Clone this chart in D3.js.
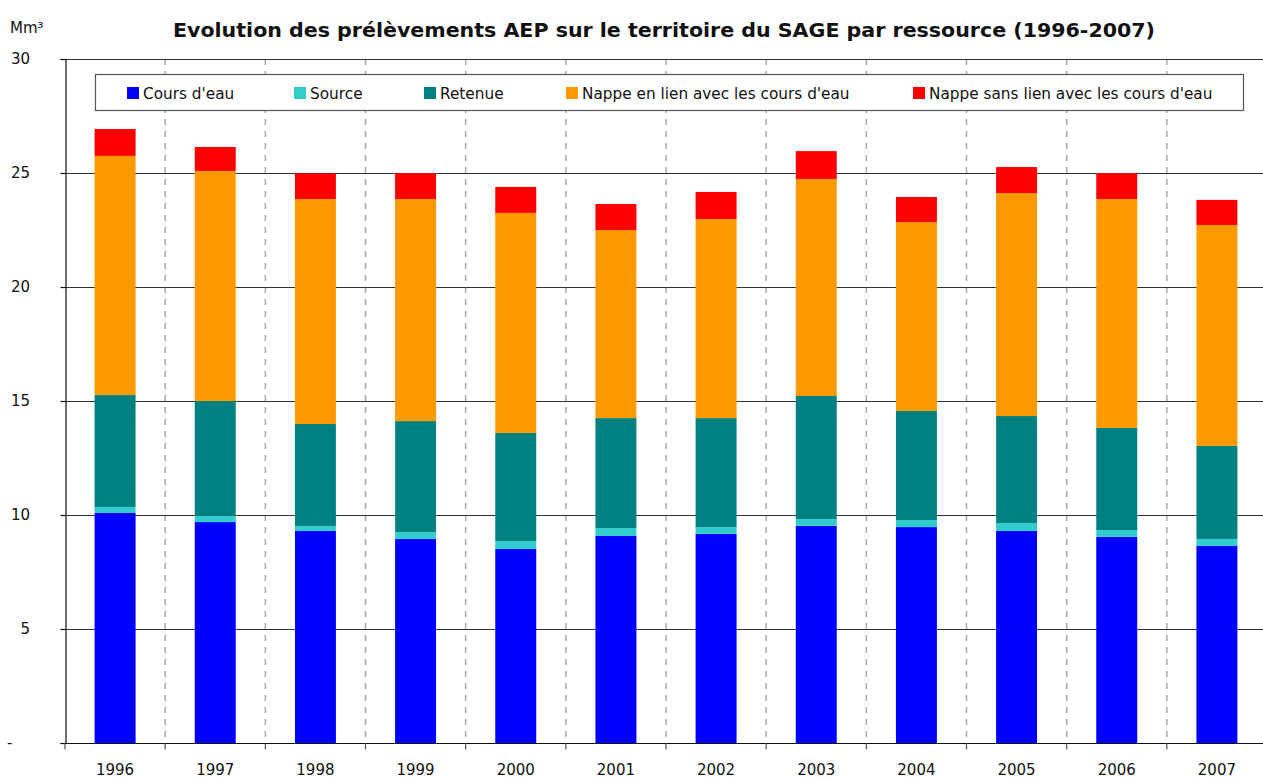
<!DOCTYPE html>
<html>
<head>
<meta charset="utf-8">
<script src="https://cdn.jsdelivr.net/npm/d3@7"></script>
<style>
  html, body { margin: 0; padding: 0; background: #fff; overflow: hidden; }
  svg { display: block; }
  text { font-family: "DejaVu Sans", Verdana, sans-serif; fill: #111; }
</style>
</head>
<body>
<svg id="chart" width="1263" height="778"></svg>
<script>
// ---- Data ----
const years = ["1996","1997","1998","1999","2000","2001","2002","2003","2004","2005","2006","2007"];
const seriesNames = ["Cours d'eau", "Source", "Retenue", "Nappe en lien avec les cours d'eau", "Nappe sans lien avec les cours d'eau"];
const coursDeau   = [10.09, 9.69, 9.30, 8.95, 8.51, 9.08, 9.17, 9.52, 9.47, 9.30, 9.04, 8.64];
const source      = [0.26, 0.27, 0.22, 0.30, 0.35, 0.35, 0.30, 0.30, 0.31, 0.35, 0.30, 0.31];
const retenue     = [4.91, 5.04, 4.47, 4.87, 4.74, 4.82, 4.78, 5.40, 4.78, 4.69, 4.48, 4.08];
const nappeLien   = [10.49, 10.09, 9.87, 9.74, 9.65, 8.25, 8.73, 9.52, 8.29, 9.78, 10.04, 9.69];
const nappeSans   = [1.18, 1.05, 1.13, 1.14, 1.14, 1.14, 1.19, 1.22, 1.10, 1.14, 1.14, 1.10];
const yTicks = [0, 5, 10, 15, 20, 25, 30];
const yTickLabels = ["-", "5", "10", "15", "20", "25", "30"];
const colors = ["#0000FF", "#33CCCC", "#008080", "#FF9900", "#FF0000"];
const title = "Evolution des prélèvements AEP sur le territoire du SAGE par ressource (1996-2007)";
const unitLabel = "Mm³";

// ---- Build table ----
const seriesArrays = [coursDeau, source, retenue, nappeLien, nappeSans];
const keys = ["s0","s1","s2","s3","s4"];
const table = years.map((yr, i) => {
  const row = { year: yr };
  keys.forEach((k, j) => row[k] = seriesArrays[j][i]);
  return row;
});
const stacked = d3.stack().keys(keys)(table);

// ---- Layout ----
const svg = d3.select("#chart");
const pLeft = 65, pRight = 1267, pTop = 59, pBottom = 743;

const x = d3.scaleBand().domain(years).range([pLeft, pRight]).paddingInner(0.591).paddingOuter(0.2955);
const xCat = d3.scaleBand().domain(years).range([pLeft, pRight]).padding(0);
const y = d3.scaleLinear().domain([0, 30]).range([pBottom, pTop]);

// dashed category separators
svg.append("g").selectAll("line")
  .data(years.slice(1).concat(["__end"]))
  .join("line")
  .attr("x1", d => d === "__end" ? pRight : xCat(d))
  .attr("x2", d => d === "__end" ? pRight : xCat(d))
  .attr("y1", pTop).attr("y2", pBottom)
  .attr("stroke", "#ababab").attr("stroke-width", 1.5)
  .attr("stroke-dasharray", "6,6");

// horizontal gridlines
svg.append("g").selectAll("line")
  .data(yTicks.filter(t => t > 0))
  .join("line")
  .attr("x1", pLeft).attr("x2", pRight)
  .attr("y1", d => Math.round(y(d)) + 0.5).attr("y2", d => Math.round(y(d)) + 0.5)
  .attr("stroke", "#333").attr("stroke-width", 1.2);

// bars
svg.append("g").selectAll("g")
  .data(stacked)
  .join("g")
  .attr("fill", (d, i) => colors[i])
  .selectAll("rect")
  .data(d => d)
  .join("rect")
  .attr("x", d => x(d.data.year))
  .attr("width", x.bandwidth())
  .attr("y", d => y(d[1]))
  .attr("height", d => y(d[0]) - y(d[1]));

// y axis
const yAxis = d3.axisLeft(y).tickValues(yTicks).tickSize(5).tickFormat("");
const gy = svg.append("g").attr("transform", `translate(${pLeft + 0.5},0)`).call(yAxis);
gy.select(".domain").attr("stroke", "#111").attr("stroke-width", 1.2);
gy.selectAll(".tick line").attr("stroke", "#111").attr("stroke-width", 1.2);
svg.append("g").selectAll("text")
  .data(yTicks)
  .join("text")
  .attr("x", d => d === 0 ? 7 : 30)
  .attr("y", d => y(d) + 5)
  .attr("text-anchor", d => d === 0 ? "start" : "end")
  .attr("font-size", 15)
  .text((d, i) => yTickLabels[i]);

// x axis
const gx = svg.append("g").attr("transform", `translate(0,${pBottom + 0.5})`);
gx.append("line").attr("x1", pLeft).attr("x2", pRight).attr("stroke", "#111").attr("stroke-width", 1.2);
gx.selectAll("line.tk")
  .data(years.concat(["__end"]))
  .join("line").attr("class", "tk")
  .attr("x1", d => d === "__end" ? pRight : xCat(d))
  .attr("x2", d => d === "__end" ? pRight : xCat(d))
  .attr("y1", 0).attr("y2", 6)
  .attr("stroke", "#555").attr("stroke-width", 1.2);
svg.append("g").selectAll("text")
  .data(years)
  .join("text")
  .attr("x", d => x(d) + x.bandwidth() / 2)
  .attr("y", 775)
  .attr("text-anchor", "middle")
  .attr("font-size", 15)
  .text(d => d);

// unit label
svg.append("text").attr("x", 10).attr("y", 33).attr("font-size", 15).text(unitLabel);

// title
svg.append("text")
  .attr("x", 664).attr("y", 37)
  .attr("text-anchor", "middle")
  .attr("font-size", 20).attr("font-weight", "bold")
  .attr("textLength", 982).attr("lengthAdjust", "spacingAndGlyphs")
  .text(title);

// legend
const lg = svg.append("g");
lg.append("rect").attr("x", 95.5).attr("y", 74.5).attr("width", 1148).attr("height", 36)
  .attr("fill", "#fff").attr("stroke", "#555").attr("stroke-width", 1.2);
const legendX = [127, 294, 424, 566, 913];
seriesNames.forEach((name, i) => {
  lg.append("rect").attr("x", legendX[i]).attr("y", 87).attr("width", 12).attr("height", 12).attr("fill", colors[i]);
  lg.append("text").attr("x", legendX[i] + 16).attr("y", 99).attr("font-size", 15.3).text(name);
});
</script>
</body>
</html>
